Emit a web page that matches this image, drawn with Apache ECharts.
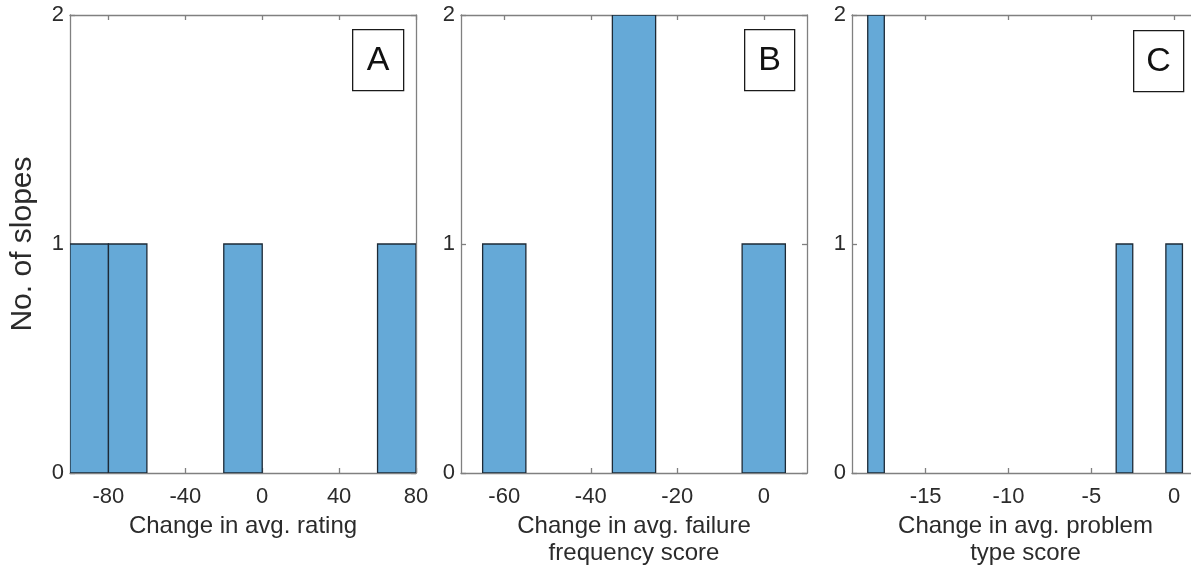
<!DOCTYPE html>
<html>
<head>
<meta charset="utf-8">
<script src="https://cdn.jsdelivr.net/npm/echarts@6.0.0/dist/echarts.min.js"></script>
<style>
  html, body { margin: 0; padding: 0; background: #fff; }
  #chart { width: 1191px; height: 569px; }
</style>
</head>
<body>
<div id="chart"></div>
<script>
// Histogram bins: left edge of each non-empty bin and its count
const ratingBinLeft = [-100, -80, -20, 60];
const ratingCounts = [1, 1, 1, 1];
const ratingBinWidth = 20;

const failureBinLeft = [-65, -35, -5];
const failureCounts = [1, 2, 1];
const failureBinWidth = 10;

const problemBinLeft = [-18.5, -3.5, -0.5];
const problemCounts = [2, 1, 1];
const problemBinWidth = 1;

// Tick labels
const ratingTicks = [-80, -40, 0, 40, 80];
const failureTicks = [-60, -40, -20, 0];
const problemTicks = [-15, -10, -5, 0];
const countTicks = [0, 1, 2];

// Texts
const panelLetters = ['A', 'B', 'C'];
const xTitles = [
  'Change in avg. rating',
  'Change in avg. failure\nfrequency score',
  'Change in avg. problem\ntype score'
];
const yTitle = 'No. of slopes';

const FONT = '"Liberation Sans", Arial, Helvetica, sans-serif';
const AXIS_COLOR = '#808080';
const TEXT_COLOR = '#2b2b2b';
const FACE = '#65a9d7';
const EDGE = '#1d2a36';

function binData(lefts, counts, width) {
  return lefts.map((l, i) => [l, l + width, counts[i]]);
}

const PLOT_TOP = 15, PLOT_H = 458;

const panels = [
  { grid: { left: 70, top: PLOT_TOP, width: 346, height: PLOT_H }, xMin: -100, xMax: 80,
    ticks: ratingTicks, data: binData(ratingBinLeft, ratingCounts, ratingBinWidth) },
  { grid: { left: 461, top: PLOT_TOP, width: 346, height: PLOT_H }, xMin: -70, xMax: 10,
    ticks: failureTicks, data: binData(failureBinLeft, failureCounts, failureBinWidth) },
  { grid: { left: 852, top: PLOT_TOP, width: 347, height: PLOT_H }, xMin: -19.45, xMax: 1.5,
    ticks: problemTicks, data: binData(problemBinLeft, problemCounts, problemBinWidth) }
];

function renderHist(params, api) {
  const x0 = api.value(0), x1 = api.value(1), n = api.value(2);
  const p0 = api.coord([x0, n]);
  const p1 = api.coord([x1, 0]);
  return {
    type: 'rect',
    shape: { x: p0[0], y: p0[1], width: p1[0] - p0[0], height: p1[1] - p0[1] },
    style: { fill: FACE, stroke: EDGE, lineWidth: 1.3 }
  };
}

const grids = [], xAxes = [], yAxes = [], series = [], graphics = [];

panels.forEach((p, i) => {
  grids.push(Object.assign({ outerBoundsMode: 'none', containLabel: false }, p.grid));
  const lineStyle = { color: AXIS_COLOR, width: 1.3 };
  // bottom axis with labels
  xAxes.push({
    type: 'value', gridIndex: i, position: 'bottom', min: p.xMin, max: p.xMax,
    splitLine: { show: false },
    axisLine: { show: true, onZero: false, lineStyle },
    axisTick: { show: true, inside: true, length: 5, customValues: p.ticks, lineStyle },
    axisLabel: { show: true, customValues: p.ticks, margin: 13, fontSize: 22,
                 fontFamily: FONT, color: TEXT_COLOR, showMinLabel: true, showMaxLabel: true },
    name: xTitles[i], nameLocation: 'middle', nameGap: 38,
    nameTextStyle: { fontSize: 24, fontFamily: FONT, color: TEXT_COLOR, lineHeight: 27 }
  });
  // top box edge with ticks
  xAxes.push({
    type: 'value', gridIndex: i, position: 'top', min: p.xMin, max: p.xMax,
    splitLine: { show: false },
    axisLine: { show: true, onZero: false, lineStyle },
    axisTick: { show: true, inside: true, length: 5, customValues: p.ticks, lineStyle },
    axisLabel: { show: false }
  });
  // left axis with labels
  yAxes.push({
    type: 'value', gridIndex: i, position: 'left', min: 0, max: 2, interval: 1,
    splitLine: { show: false },
    axisLine: { show: true, onZero: false, lineStyle },
    axisTick: { show: true, inside: true, length: 5, lineStyle },
    axisLabel: { show: true, margin: 6, fontSize: 22, fontFamily: FONT, color: TEXT_COLOR,
                 padding: [7, 0, 0, 0],
                 formatter: v => countTicks.includes(v) ? String(v) : '' }
  });
  // right box edge with ticks
  yAxes.push({
    type: 'value', gridIndex: i, position: 'right', min: 0, max: 2, interval: 1,
    splitLine: { show: false },
    axisLine: { show: true, onZero: false, lineStyle },
    axisTick: { show: true, inside: true, length: 5, lineStyle },
    axisLabel: { show: false }
  });
  series.push({
    type: 'custom', xAxisIndex: i * 2, yAxisIndex: i * 2,
    renderItem: renderHist, encode: { x: [0, 1], y: 2 },
    data: p.data, clip: true, silent: true
  });
});

// Panel letter boxes
const letterBoxes = [
  { x: 352, y: 29, w: 51, h: 61 },
  { x: 744, y: 29, w: 50, h: 61 },
  { x: 1133, y: 30, w: 50, h: 61 }
];
letterBoxes.forEach((b, i) => {
  graphics.push({
    type: 'group', left: b.x, top: b.y, z: 10,
    children: [
      { type: 'rect', shape: { x: 0, y: 0, width: b.w, height: b.h },
        style: { fill: '#fff', stroke: '#1a1a1a', lineWidth: 1.3 } },
      { type: 'text', x: b.w / 2, y: b.h / 2,
        style: { text: panelLetters[i], fontSize: 34, fontFamily: FONT, fill: '#111',
                 align: 'center', verticalAlign: 'middle' } }
    ]
  });
});

// Shared y-axis title
graphics.push({
  type: 'text', x: 23, y: 244, rotation: Math.PI / 2,
  style: { text: yTitle, fontSize: 30, fontFamily: FONT, fill: TEXT_COLOR,
           align: 'center', verticalAlign: 'middle' }
});

const chart = echarts.init(document.getElementById('chart'), null, { renderer: 'canvas' });
chart.setOption({
  animation: false,
  backgroundColor: '#fff',
  grid: grids,
  xAxis: xAxes,
  yAxis: yAxes,
  series: series,
  graphic: graphics
});
</script>
</body>
</html>
